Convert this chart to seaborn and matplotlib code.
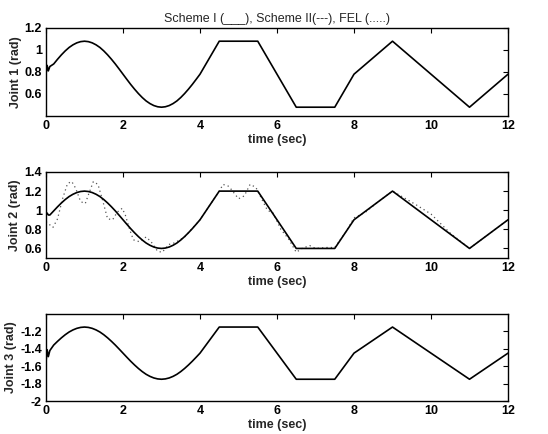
import matplotlib
matplotlib.use("Agg")
import matplotlib.pyplot as plt
import seaborn as sns
import pandas as pd

sns.set_theme(style="white")
plt.rcParams['font.family'] = ['Liberation Sans', 'DejaVu Sans']

# ---- data ----
t_ref = [0, 0.03, 0.06, 0.1, 0.2, 0.3, 0.4, 0.5, 0.6, 0.7, 0.8, 0.9, 1.0,
         1.1, 1.2, 1.3, 1.4, 1.5, 1.6, 1.7, 1.8, 1.9, 2.0,
         2.1, 2.2, 2.3, 2.4, 2.5, 2.6, 2.7, 2.8, 2.9, 3.0,
         3.1, 3.2, 3.3, 3.4, 3.5, 3.6, 3.7, 3.8, 3.9, 4.0,
         4.5, 5.5, 6.5, 7.5, 8.0, 9.0, 11.0, 12.0]
joint1 = [0.780, 0.860, 0.810, 0.850, 0.873, 0.916, 0.956, 0.992, 1.023, 1.047, 1.065,
          1.076, 1.080, 1.076, 1.065, 1.047, 1.023, 0.992, 0.956, 0.916, 0.873, 0.827,
          0.780, 0.733, 0.687, 0.644, 0.604, 0.568, 0.537, 0.513, 0.495, 0.484, 0.480,
          0.484, 0.495, 0.513, 0.537, 0.568, 0.604, 0.644, 0.687, 0.733, 0.780,
          1.080, 1.080, 0.480, 0.480, 0.780, 1.080, 0.480, 0.780]
joint2 = [0.950, 0.970, 0.950, 0.950, 0.993, 1.036, 1.076, 1.112, 1.143, 1.167, 1.185,
          1.196, 1.200, 1.196, 1.185, 1.167, 1.143, 1.112, 1.076, 1.036, 0.993, 0.947,
          0.900, 0.853, 0.807, 0.764, 0.724, 0.688, 0.657, 0.633, 0.615, 0.604, 0.600,
          0.604, 0.615, 0.633, 0.657, 0.688, 0.724, 0.764, 0.807, 0.853, 0.900,
          1.200, 1.200, 0.600, 0.600, 0.900, 1.200, 0.600, 0.900]
joint3 = [-1.550, -1.410, -1.490, -1.420, -1.357, -1.314, -1.274, -1.238, -1.207,
          -1.183, -1.165, -1.154, -1.150, -1.154, -1.165, -1.183, -1.207, -1.238,
          -1.274, -1.314, -1.357, -1.403, -1.450, -1.497, -1.543, -1.586, -1.626,
          -1.662, -1.693, -1.717, -1.735, -1.746, -1.750, -1.746, -1.735, -1.717,
          -1.693, -1.662, -1.626, -1.586, -1.543, -1.497, -1.450,
          -1.150, -1.150, -1.750, -1.750, -1.450, -1.150, -1.750, -1.450]

t_fel2 = [0, 0.06, 0.18, 0.3, 0.43, 0.56, 0.67, 0.77, 0.9, 1.02, 1.1, 1.23, 1.35, 1.48,
          1.6, 1.73, 1.85, 1.98, 2.06, 2.18, 2.27, 2.43, 2.6, 2.73, 2.9, 3.02, 3.18, 3.35,
          3.6, 3.8, 4.0, 4.3, 4.5, 4.6, 4.75, 5.0, 5.15, 5.3, 5.45, 5.6, 5.75, 5.9, 6.1,
          6.3, 6.5, 6.65, 6.85, 7.0, 7.3, 7.5, 7.8, 8.0, 8.3, 8.6, 9.0, 9.3, 9.6, 10.0,
          10.5, 11.0, 11.5, 12.0]
fel2 = [0.88, 0.86, 0.82, 0.91, 1.12, 1.28, 1.30, 1.23, 1.09, 1.07, 1.16, 1.30, 1.27,
        1.09, 0.91, 0.90, 0.98, 1.02, 0.95, 0.79, 0.69, 0.67, 0.72, 0.67, 0.57, 0.56,
        0.64, 0.66, 0.72, 0.81, 0.90, 1.08, 1.20, 1.27, 1.25, 1.12, 1.15, 1.27, 1.24,
        1.12, 1.00, 0.97, 0.80, 0.70, 0.56, 0.60, 0.63, 0.60, 0.61, 0.61, 0.78, 0.92,
        0.98, 1.08, 1.20, 1.13, 1.06, 0.96, 0.76, 0.60, 0.75, 0.90]

ylabels = ["Joint 1 (rad)", "Joint 2 (rad)", "Joint 3 (rad)"]
ylims = [(0.4, 1.2), (0.5, 1.4), (-2.0, -1.0)]
yticks = [[0.6, 0.8, 1.0, 1.2], [0.6, 0.8, 1.0, 1.2, 1.4], [-2.0, -1.8, -1.6, -1.4, -1.2]]
ytick_labels = [["0.6", "0.8", "1", "1.2"], ["0.6", "0.8", "1", "1.2", "1.4"],
                ["-2", "-1.8", "-1.6", "-1.4", "-1.2"]]
xticks = [0, 2, 4, 6, 8, 10, 12]
title = "Scheme I (___), Scheme II(---), FEL (.....)"

W, H = 548, 434
fig = plt.figure(figsize=(W / 100, H / 100), dpi=100)
boxes = [(46, 28, 508, 116), (46, 172, 508, 258), (46, 314, 508, 401)]
axes = [fig.add_axes([l / W, 1 - b / H, (r - l) / W, (b - t) / H]) for (l, t, r, b) in boxes]

refs = [joint1, joint2, joint3]
for i, ax in enumerate(axes):
    df = pd.DataFrame({"t": t_ref, "v": refs[i]})
    if i == 1:
        dff = pd.DataFrame({"t": t_fel2, "v": fel2})
        sns.lineplot(data=dff, x="t", y="v", ax=ax, color="#555555", lw=0.9,
                     linestyle=(0, (1, 2.5)), estimator=None, sort=False)
    sns.lineplot(data=df, x="t", y="v", ax=ax, color="black", lw=1.2,
                 estimator=None, sort=False)
    ax.set_xlim(0, 12)
    ax.set_ylim(*ylims[i])
    ax.set_xticks(xticks)
    ax.set_xticklabels([str(x) for x in xticks])
    ax.set_yticks(yticks[i])
    ax.set_yticklabels(ytick_labels[i])
    ax.set_xlabel("time (sec)", fontsize=9, fontweight="bold", labelpad=1)
    ax.set_ylabel(ylabels[i], fontsize=9, fontweight="bold", labelpad=2)
    ax.tick_params(direction="in", length=3.5, width=0.8, top=True, right=True,
                   labelsize=9, pad=3, colors="black")
    for lab in ax.get_xticklabels() + ax.get_yticklabels():
        lab.set_fontweight("bold")
    for s in ax.spines.values():
        s.set_color("black")
        s.set_linewidth(1.0)
    ax.grid(False)

axes[0].set_title(title, fontsize=9, pad=4)

fig.savefig("out.png", dpi=100)
